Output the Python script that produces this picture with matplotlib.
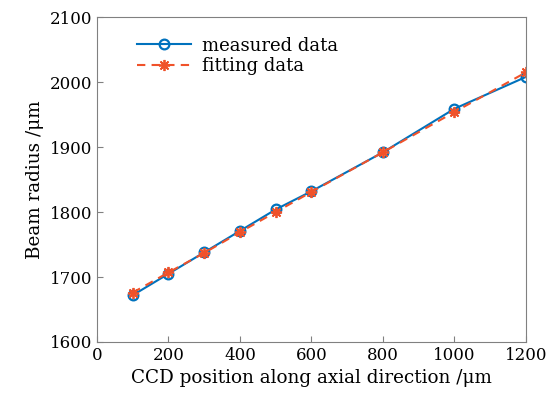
import matplotlib
matplotlib.use("Agg")
import matplotlib.pyplot as plt

# ---- data ----
pos = [100, 200, 300, 400, 500, 600, 800, 1000, 1200]
measured = [1672, 1705, 1738, 1771, 1804, 1832, 1892, 1959, 2008]
fitting = [1676, 1707, 1737, 1769, 1800, 1831, 1892, 1954, 2015]
xticks = [0, 200, 400, 600, 800, 1000, 1200]
yticks = [1600, 1700, 1800, 1900, 2000, 2100]

plt.rcParams['font.family'] = ['DejaVu Serif']
plt.rcParams['mathtext.fontset'] = 'dejavuserif'

fig = plt.figure(figsize=(5.49, 4.08), dpi=100)
ax = fig.add_axes([0.1767, 0.1618, 0.958 - 0.1767, 0.958 - 0.1618])

ax.plot(pos, measured, '-o', color='#0072BD', lw=1.5, ms=7, mfc='none', mew=1.6,
        label='measured data')
ax.plot(pos, fitting, '--', marker=(8, 2, 0), color='#F0522A', lw=1.5, ms=8, mew=1.3,
        dashes=(4, 3), label='fitting data')

ax.set_xlim(0, 1200)
ax.set_ylim(1600, 2100)
ax.set_xticks(xticks)
ax.set_yticks(yticks)
ax.tick_params(direction='in', labelsize=12, length=4, color='#808080')
for s in ax.spines.values():
    s.set_color('#808080')
    s.set_linewidth(0.8)

ax.set_xlabel('CCD position along axial direction /μm', fontsize=13.2)
ax.set_ylabel('Beam radius /μm', fontsize=13.2)

ax.legend(loc='upper left', frameon=False, fontsize=13, handlelength=3.0,
          bbox_to_anchor=(0.055, 0.99), labelspacing=0.15, handletextpad=0.6)

fig.savefig('out.png', dpi=100)
